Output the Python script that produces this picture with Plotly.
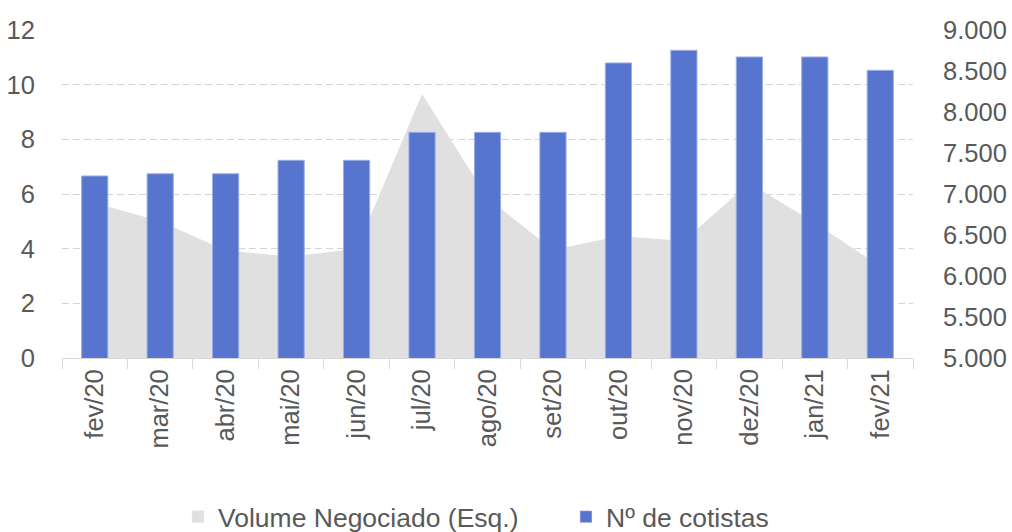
import plotly.graph_objects as go

months = ["fev/20", "mar/20", "abr/20", "mai/20", "jun/20", "jul/20", "ago/20",
          "set/20", "out/20", "nov/20", "dez/20", "jan/21", "fev/21"]
volume = [5.67, 5.0, 3.93, 3.71, 4.0, 9.66, 5.85, 3.95, 4.45, 4.29, 6.4, 4.94, 3.35]
cotistas = [7220, 7247, 7247, 7411, 7411, 7752, 7752, 7752, 8598, 8752, 8671, 8671, 8508]

left_ticks = [0, 2, 4, 6, 8, 10, 12]
right_ticks = [5000, 5500, 6000, 6500, 7000, 7500, 8000, 8500, 9000]

AREA_COLOR = "#E0E0E0"
BAR_COLOR = "#5775CF"
font = dict(family="Liberation Sans, Arial, sans-serif", size=25.5, color="#595959")
legend_font = dict(family="Liberation Sans, Arial, sans-serif", size=26.5, color="#595959")

W, H = 1012, 532

fig = go.Figure()
fig.add_trace(go.Scatter(
    x=months, y=volume, name="Volume Negociado (Esq.)",
    mode="lines", fill="tozeroy", fillcolor=AREA_COLOR,
    line=dict(width=0, color=AREA_COLOR), yaxis="y", hoverinfo="skip",
    showlegend=False,
))
fig.add_trace(go.Bar(
    x=months, y=cotistas, name="Nº de cotistas", yaxis="y2",
    marker=dict(color=BAR_COLOR, line=dict(color="#9aaee6", width=1)),
    showlegend=False,
))
# legend entries (square swatches as in the original)
fig.add_trace(go.Bar(x=[None], y=[None], name="Volume Negociado (Esq.)",
                     marker=dict(color=AREA_COLOR), showlegend=True))
fig.add_trace(go.Bar(x=[None], y=[None], name="Nº de cotistas", yaxis="y2",
                     marker=dict(color=BAR_COLOR), showlegend=True))

fig.update_layout(
    width=W, height=H,
    margin=dict(l=62, r=99, t=30, b=174, autoexpand=False),
    paper_bgcolor="white", plot_bgcolor="white",
    font=font,
    separators=",.",
    bargap=0.6,
    showlegend=True,
    legend=dict(orientation="h", xref="container", yref="container",
                x=178 / W, xanchor="left", y=15 / H, yanchor="middle",
                font=legend_font, entrywidth=343, entrywidthmode="pixels",
                traceorder="normal", bgcolor="rgba(0,0,0,0)"),
    xaxis=dict(
        type="category", range=[-0.5, 12.5], tickangle=-90,
        showline=True, linecolor="#D9D9D9", linewidth=1,
        ticks="outside", tickson="boundaries", ticklen=10, tickcolor="#D9D9D9",
        showgrid=False, tickfont=font, automargin=False,
    ),
    yaxis=dict(
        range=[0, 12], tickvals=left_ticks, showgrid=True,
        gridcolor="#D4D4D4", griddash="7px,4px", gridwidth=1.4,
        zeroline=False, showline=False, tickfont=font,
        ticks="outside", ticklen=21, tickcolor="rgba(0,0,0,0)", automargin=False,
    ),
    yaxis2=dict(
        range=[5000, 9000], tickvals=right_ticks, tickformat=",d",
        overlaying="y", side="right", showgrid=False, zeroline=False,
        showline=False, tickfont=font, ticks="outside", ticklen=24,
        tickcolor="rgba(0,0,0,0)", automargin=False,
    ),
)

fig.write_html("out.html", config={"displayModeBar": False},
               post_script="document.body.style.margin='0';document.body.style.overflow='hidden';")
